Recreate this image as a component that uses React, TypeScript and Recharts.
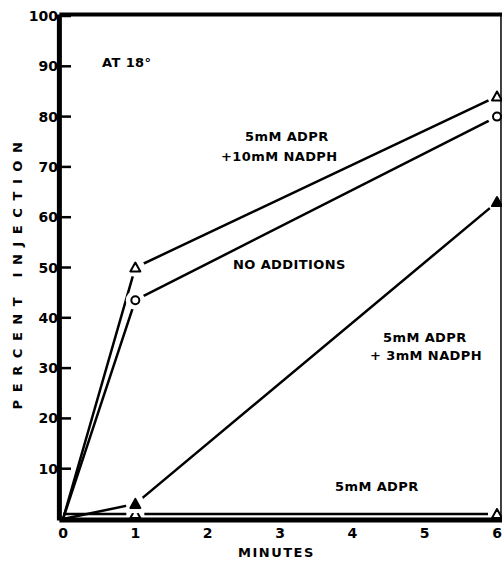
import React from 'react';
import { ComposedChart, Line, Scatter, XAxis, YAxis, ReferenceLine } from 'recharts';

// minutes after start, percent injection
const minutes = [0, 1, 6];
const adprNadph10 = [0, 50, 84];
const noAdditions = [0, 43.5, 80];
const adprNadph3 = [0, 3, 63];
const adprOnly = [1, 1, 1];

const xTicks = [0, 1, 2, 3, 4, 5, 6];
const yTicks = [10, 20, 30, 40, 50, 60, 70, 80, 90, 100];

const FONT = '"DejaVu Sans", sans-serif';

const data = minutes.map((m, i) => ({
  m,
  nadph10: adprNadph10[i],
  none: noAdditions[i],
  nadph3: adprNadph3[i],
  adpr: adprOnly[i],
}));

// the origin has no marker in the original
const markers = (vals: number[]) =>
  minutes.map((m, i) => ({ m, v: vals[i] })).filter((_, i) => i > 0);

type Shape = 'tri' | 'triFill' | 'circle' | 'triLow';

// markers with a white halo so the lines stop short of them, like the drawn original
const makeShape = (shape: Shape) => (props: any) => {
  const { cx, cy } = props;
  if (cx == null || cy == null) return <g />;
  const halo =
    shape === 'triLow' ? (
      <rect x={cx - 9} y={cy - 7} width={18} height={10} fill="#fff" />
    ) : (
      <circle cx={cx} cy={cy} r={9.5} fill="#fff" />
    );
  return (
    <g>
      {halo}
      {shape === 'circle' ? (
        <circle cx={cx} cy={cy} r={4} fill="#fff" stroke="#000" strokeWidth={2} />
      ) : (
        <path
          d={`M${cx},${cy - 5} L${cx - 5},${cy + 4} L${cx + 5},${cy + 4} Z`}
          fill={shape === 'triFill' ? '#000' : '#fff'}
          stroke="#000"
          strokeWidth={2}
          strokeLinejoin="round"
        />
      )}
    </g>
  );
};

const YTick = (props: any) => {
  const { x, y, payload } = props;
  return (
    <g>
      <line x1={x - 2} x2={x + 8} y1={y} y2={y} stroke="#000" strokeWidth={2.5} />
      <text
        x={x - 5}
        y={y}
        dy={5}
        textAnchor="end"
        fontFamily={FONT}
        fontWeight="bold"
        fontSize={14}
        fill="#000"
      >
        {payload.value}
      </text>
    </g>
  );
};

const txt = (left: number, cy: number, s: string, extra: React.CSSProperties = {}) => (
  <div
    style={{
      position: 'absolute',
      left,
      top: cy - 8,
      lineHeight: '16px',
      fontSize: 13,
      fontWeight: 'bold',
      fontFamily: FONT,
      color: '#000',
      whiteSpace: 'nowrap',
      letterSpacing: 0.4,
      ...extra,
    }}
  >
    {s}
  </div>
);

export default function App() {
  return (
    <div style={{ position: 'absolute', left: 0, top: 0, width: 502, height: 562, background: '#fff' }}>
      <ComposedChart width={502} height={562} data={data} margin={{ top: 16, right: 5, left: 0, bottom: 0 }}>
        <XAxis
          dataKey="m"
          type="number"
          domain={[0, 6]}
          ticks={xTicks}
          axisLine={false}
          tickLine={false}
          tickMargin={3}
          height={43}
          tick={{ fontSize: 14, fontWeight: 'bold', fill: '#000', fontFamily: FONT }}
        />
        <YAxis
          type="number"
          domain={[0, 100]}
          ticks={yTicks}
          width={63}
          axisLine={false}
          tickLine={false}
          tickSize={0}
          tickMargin={0}
          interval={0}
          tick={<YTick />}
        />
        <Line dataKey="adpr" stroke="#000" strokeWidth={2.5} dot={false} isAnimationActive={false} zIndex={100} />
        <Line dataKey="nadph3" stroke="#000" strokeWidth={2.5} dot={false} isAnimationActive={false} zIndex={100} />
        <Line dataKey="none" stroke="#000" strokeWidth={2.5} dot={false} isAnimationActive={false} zIndex={100} />
        <Line dataKey="nadph10" stroke="#000" strokeWidth={2.5} dot={false} isAnimationActive={false} zIndex={100} />
        <Scatter data={markers(adprOnly)} dataKey="v" shape={makeShape('triLow')} isAnimationActive={false} zIndex={700} />
        <Scatter data={markers(adprNadph3)} dataKey="v" shape={makeShape('triFill')} isAnimationActive={false} zIndex={700} />
        <Scatter data={markers(noAdditions)} dataKey="v" shape={makeShape('circle')} isAnimationActive={false} zIndex={700} />
        <Scatter data={markers(adprNadph10)} dataKey="v" shape={makeShape('tri')} isAnimationActive={false} zIndex={700} />
        <ReferenceLine segment={[{ x: -0.05, y: -0.3 }, { x: -0.05, y: 100.3 }]} stroke="#000" strokeWidth={5} ifOverflow="visible" zIndex={900} />
        <ReferenceLine segment={[{ x: -0.05, y: -0.2 }, { x: 6.1, y: -0.2 }]} stroke="#000" strokeWidth={5} ifOverflow="visible" zIndex={900} />
        <ReferenceLine segment={[{ x: -0.05, y: 100.3 }, { x: 6.1, y: 100.3 }]} stroke="#000" strokeWidth={4} ifOverflow="visible" zIndex={900} />
        <ReferenceLine segment={[{ x: 6.055, y: -0.2 }, { x: 6.055, y: 100.3 }]} stroke="#000" strokeWidth={1.5} ifOverflow="visible" zIndex={900} />
      </ComposedChart>

      {txt(102, 63, 'AT 18°')}
      {txt(245, 137, '5mM ADPR')}
      {txt(221, 157, '+10mM NADPH')}
      {txt(233, 265, 'NO ADDITIONS')}
      {txt(383, 338, '5mM ADPR')}
      {txt(370, 356, '+ 3mM NADPH')}
      {txt(335, 487, '5mM ADPR')}
      {txt(238, 553, 'MINUTES', { letterSpacing: 1.5 })}
      <div
        style={{
          position: 'absolute',
          left: 18,
          top: 272,
          transform: 'translate(-50%, -50%) rotate(-90deg)',
          fontSize: 13,
          fontWeight: 'bold',
          fontFamily: FONT,
          color: '#000',
          whiteSpace: 'nowrap',
          letterSpacing: 7.6,
          lineHeight: '14px',
        }}
      >
        PERCENT INJECTION
      </div>
    </div>
  );
}
